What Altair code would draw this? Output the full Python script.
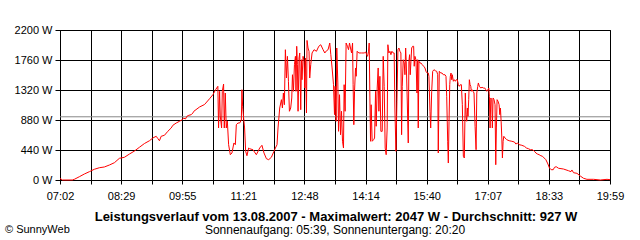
import json
import altair as alt
import pandas as pd

# ---- data (time in minutes since midnight, power in W) ----
morning_t = [422, 425.3, 439.4, 442.2, 449.3, 456.4, 463.5, 470.5, 477.6, 484.7, 491.8, 498.9, 505.9, 513.0,
             520.1, 527.2, 534.2, 541.3, 548.4, 553.1, 557.9, 560.1, 562.5, 564.9, 569.6, 574.3, 579.1, 581.4,
             586.2, 590.8, 594.7, 596.5, 599.3, 601.2, 604.0, 607.4, 609.7, 611.1, 619.2, 626.2, 633.3, 638.0,
             641.8, 645.0]
morning_w = [25, 0, 0, 10, 48, 88, 122, 157, 180, 191, 220, 254, 318, 333,
             381, 425, 480, 535, 576, 616, 641, 609, 576, 641, 656, 714, 763, 802,
             836, 861, 884, 909, 895, 934, 949, 958, 983, 1008, 1071, 1107, 1192, 1251,
             1324, 1374]

noon_t = [646.0, 647.5, 648.4, 650.3, 651.3, 653.1, 654.1, 655.5, 656.9, 658.4, 660.2, 662.6, 664.9, 667.7,
          669.7, 671.1, 673.4, 675.8, 678.2, 679.0, 680.0, 681.4, 682.8, 684.3, 686.1, 688.5, 689.9, 694.6,
          699.4, 704.1, 707.3, 710.2, 713.6, 716.8, 720.6, 724.3, 726.3, 728.6, 730.0, 732.4, 734.8, 736.2,
          737.6, 739.0, 740.4, 741.9, 743.3, 744.7, 746.1, 747.9, 749.4, 750.4, 751.8, 753.2, 754.6, 755.4,
          756.4, 757.4, 758.3, 759.7]
noon_w = [763, 1301, 939, 763, 1301, 1408, 763, 1276, 763, 865, 518, 371, 396, 543,
          518, 811, 836, 836, 880, 1324, 1081, 909, 763, 421, 356, 469, 459, 444,
          371, 469, 509, 396, 312, 298, 333, 421, 469, 518, 763, 1056, 1178, 1056,
          1276, 1104, 1911, 1496, 1814, 1448, 1008, 1056, 1203, 1544, 1301, 1691, 1814, 1301,
          1961, 1691, 1008, 1789]

early_pm_t = [760.7, 762.1, 763.1, 763.9, 765.4, 766.8, 767.8, 768.7, 770.2, 771.0, 772.4, 773.8, 774.8, 776.2,
              778.1, 780.9, 784.3, 787.6, 790.4, 793.7, 796.1, 798.5, 800.7, 803.1, 804.6, 806.4, 808.4, 809.8,
              810.6, 812.1, 813.0, 814.5, 815.5, 816.9, 818.3, 819.7, 821.1, 822.5, 823.4, 824.8, 826.2, 828.1,
              829.6, 831.0, 832.4, 833.9, 835.3, 836.1, 837.1, 838.1, 839.5, 840.4, 841.8, 844.2, 848.0, 851.7,
              854.1, 855.1, 856.5, 857.9, 858.8, 859.8, 860.7, 861.6, 863.0, 865.0, 866.4, 867.8, 868.7, 870.1,
              871.5, 872.5, 873.9, 875.3, 877.2, 878.6, 880.0, 881.4, 882.8, 884.2, 885.2, 886.6, 888.1, 889.5,
              890.9, 892.7, 894.1]
early_pm_w = [1863, 1031, 1764, 1471, 1814, 1741, 1349, 1789, 983, 2047, 1936, 1888, 1496, 1691,
              1863, 1911, 1888, 1961, 1984, 1911, 1863, 1896, 1911, 2009, 1838, 1643, 1398, 958,
              1374, 861, 1936, 1423, 714, 1251, 664, 1008, 568, 469, 1398, 1008, 2009, 1961,
              1911, 2009, 1936, 1863, 2009, 1398, 811, 1301, 1643, 1521, 1888, 1863, 1863, 1863,
              1877, 1838, 1814, 1888, 2009, 1203, 568, 1104, 568, 591, 616, 1301, 788, 1349,
              1643, 1008, 1521, 714, 714, 1814, 1374, 469, 371, 763, 1984, 1863, 1888, 1838,
              1888, 1863, 1863]

late_pm_t = [895.1, 896.6, 898.0, 899.4, 900.8, 902.2, 903.6, 904.6, 905.5, 906.9, 908.3, 909.3, 910.3, 911.1,
             912.5, 914.0, 914.9, 915.9, 916.8, 917.8, 918.8, 920.2, 921.6, 922.4, 923.4, 924.9, 926.3, 927.3,
             928.1, 929.1, 930.5, 931.9, 933.8, 935.8, 937.6, 939.0, 940.8, 942.3, 943.2, 944.7, 945.7, 947.1,
             948.5, 950.3, 952.2, 954.2, 955.6, 956.4, 957.8, 959.8, 961.7, 963.5, 965.9, 967.3, 968.3, 969.7,
             970.6, 971.6, 972.6, 973.4, 974.4, 975.4, 976.2, 977.7, 979.1, 980.5, 981.9, 983.3, 984.7, 986.1,
             987.6, 989.0, 990.4, 991.8, 993.2, 994.6, 995.6, 996.6, 997.5, 998.4, 999.4, 1000.3, 1001.3, 1002.3,
             1003.1, 1004.1, 1005.5, 1006.9, 1008.4, 1009.8, 1010.8, 1012.2, 1013.0, 1014.5, 1016.4, 1018.3,
             1020.1, 1022.1, 1023.5, 1024.9, 1026.3, 1027.8, 1028.6, 1029.6, 1030.6, 1032.0, 1032.8, 1033.8,
             1035.2, 1036.6]
late_pm_w = [1056, 421, 1154, 1911, 1936, 1888, 1863, 664, 1374, 1764, 1716, 1544, 1936, 1741,
             1203, 543, 1741, 1838, 1544, 1741, 1936, 1961, 1961, 1668, 1814, 1764, 1276, 1764,
             763, 1741, 1716, 1716, 1691, 1668, 1643, 1594, 1569, 1569, 1521, 1008, 763, 1301,
             1594, 1618, 1603, 1594, 1544, 396, 1594, 1569, 1569, 1544, 1544, 1521, 1228, 568,
             249, 861, 1398, 1521, 1569, 1471, 1544, 1448, 1471, 1448, 1471, 1471, 1398, 1374,
             1398, 1398, 1104, 348, 323, 1276, 958, 861, 1056, 934, 1178, 1471, 1398, 1374,
             1301, 1324, 1301, 1276, 788, 444, 1276, 1374, 1423, 1374, 1349, 1360,
             1349, 1349, 1324, 1301, 1324, 1349, 1228, 763, 1203, 1178, 763, 1203,
             1178, 1104]

evening_t = [1037.6, 1038.5, 1039.5, 1040.9, 1042.3, 1043.3, 1044.2, 1045.2, 1046.2, 1047.0, 1048.0, 1049.0,
             1050.8, 1053.2, 1056.5, 1060.3, 1064.0, 1066.0, 1068.8, 1070.7, 1074.4, 1078.1, 1081.0, 1083.8,
             1086.6, 1089.5, 1092.3, 1094.3, 1096.5, 1098.9, 1101.3, 1103.6, 1106.0, 1108.4, 1111.3, 1113.5,
             1115.9, 1118.8, 1120.6, 1123.0, 1126.3, 1133.3, 1140.4, 1143.8, 1145.2, 1147.5, 1152.3, 1157.0,
             1161.6, 1166.4, 1175.8, 1185.3, 1194.8, 1199]
evening_w = [224, 763, 1178, 1154, 1104, 958, 1056, 861, 616, 323, 568, 641,
             616, 591, 576, 568, 557, 528, 543, 518, 509, 494, 469, 459,
             444, 444, 421, 396, 381, 371, 356, 348, 323, 298, 235, 176,
             151, 151, 186, 195, 172, 161, 136, 122, 147, 107, 98, 59,
             25, 10, 10, 0, 10, 5]

average_w = 927
y_ticks = [0, 440, 880, 1320, 1760, 2200]
x_tick_labels = ["07:02", "08:29", "09:55", "11:21", "12:48", "14:14", "15:40", "17:07", "18:33", "19:59"]
title_text = "Leistungsverlauf vom 13.08.2007 - Maximalwert: 2047 W - Durchschnitt: 927 W"
subtitle_text = "Sonnenaufgang: 05:39, Sonnenuntergang: 20:20"
credit_text = "\u00a9 SunnyWeb"

# ---- build ----
times = morning_t + noon_t + early_pm_t + late_pm_t + evening_t
watts = morning_w + noon_w + early_pm_w + late_pm_w + evening_w
df = pd.DataFrame({"t": times, "w": watts})

t0, t1 = 422, 1199
step = (t1 - t0) / 18
x_ticks = [t0 + k * step for k in range(19)]
label_js = json.dumps(x_tick_labels).replace('"', "'")
x_label_expr = (f"(round((datum.value-{t0})/{step}) % 2 == 0) ? "
                f"{label_js}[round((datum.value-{t0})/{2*step})] : ''")

FONT = "Liberation Sans"
W, H = 550, 150

x_enc = alt.X("t:Q", scale=alt.Scale(domain=[t0, t1], nice=False, zero=False),
              axis=alt.Axis(values=x_ticks, labelExpr=x_label_expr, title=None, grid=True,
                            gridColor="black", gridOpacity=1, gridWidth=1,
                            tickColor="black", tickSize=4, domainColor="black",
                            labelFont=FONT, labelFontSize=11, labelColor="black",
                            labelPadding=6, labelOverlap=False, labelFlush=False))
y_axis = alt.Axis(values=y_ticks, labelExpr="datum.value + ' W'", title=None, grid=True,
                  gridColor="black", gridOpacity=1, gridWidth=1,
                  tickColor="black", tickSize=5, domainColor="black",
                  labelFont=FONT, labelFontSize=11, labelColor="black",
                  labelPadding=3, labelFlush=False, labelOverlap=False)
y_scale = alt.Scale(domain=[0, 2200], nice=False)

line = alt.Chart(df).mark_line(color="#ff0000", strokeWidth=1, interpolate="linear").encode(
    x=x_enc, y=alt.Y("w:Q", scale=y_scale, axis=y_axis))

avg = alt.Chart(pd.DataFrame({"w": [average_w]})).mark_rule(color="#888888", strokeWidth=1).encode(
    y=alt.Y("w:Q", scale=y_scale, axis=y_axis))

one = pd.DataFrame({"a": [0]})
title = alt.Chart(one).mark_text(font=FONT, fontSize=13, fontWeight="bold", color="black",
                                 align="center", baseline="middle").encode(
    x=alt.value(276), y=alt.value(187), text=alt.value(title_text))
subtitle = alt.Chart(one).mark_text(font=FONT, fontSize=12, color="black",
                                    align="center", baseline="middle").encode(
    x=alt.value(275), y=alt.value(200), text=alt.value(subtitle_text))
credit = alt.Chart(one).mark_text(font=FONT, fontSize=11, color="black",
                                  align="left", baseline="middle").encode(
    x=alt.value(-55), y=alt.value(200), text=alt.value(credit_text))

chart = alt.layer(avg, line, title, subtitle, credit).properties(
    width=W, height=H,
    autosize=alt.AutoSizeParams(type="none"),
    padding={"left": 60, "top": 30, "right": 30, "bottom": 60},
    background="white",
).configure_view(stroke="black", strokeWidth=1).configure_axis(zindex=0)

chart.save("out.html", embed_options={"renderer": "svg", "actions": False})
